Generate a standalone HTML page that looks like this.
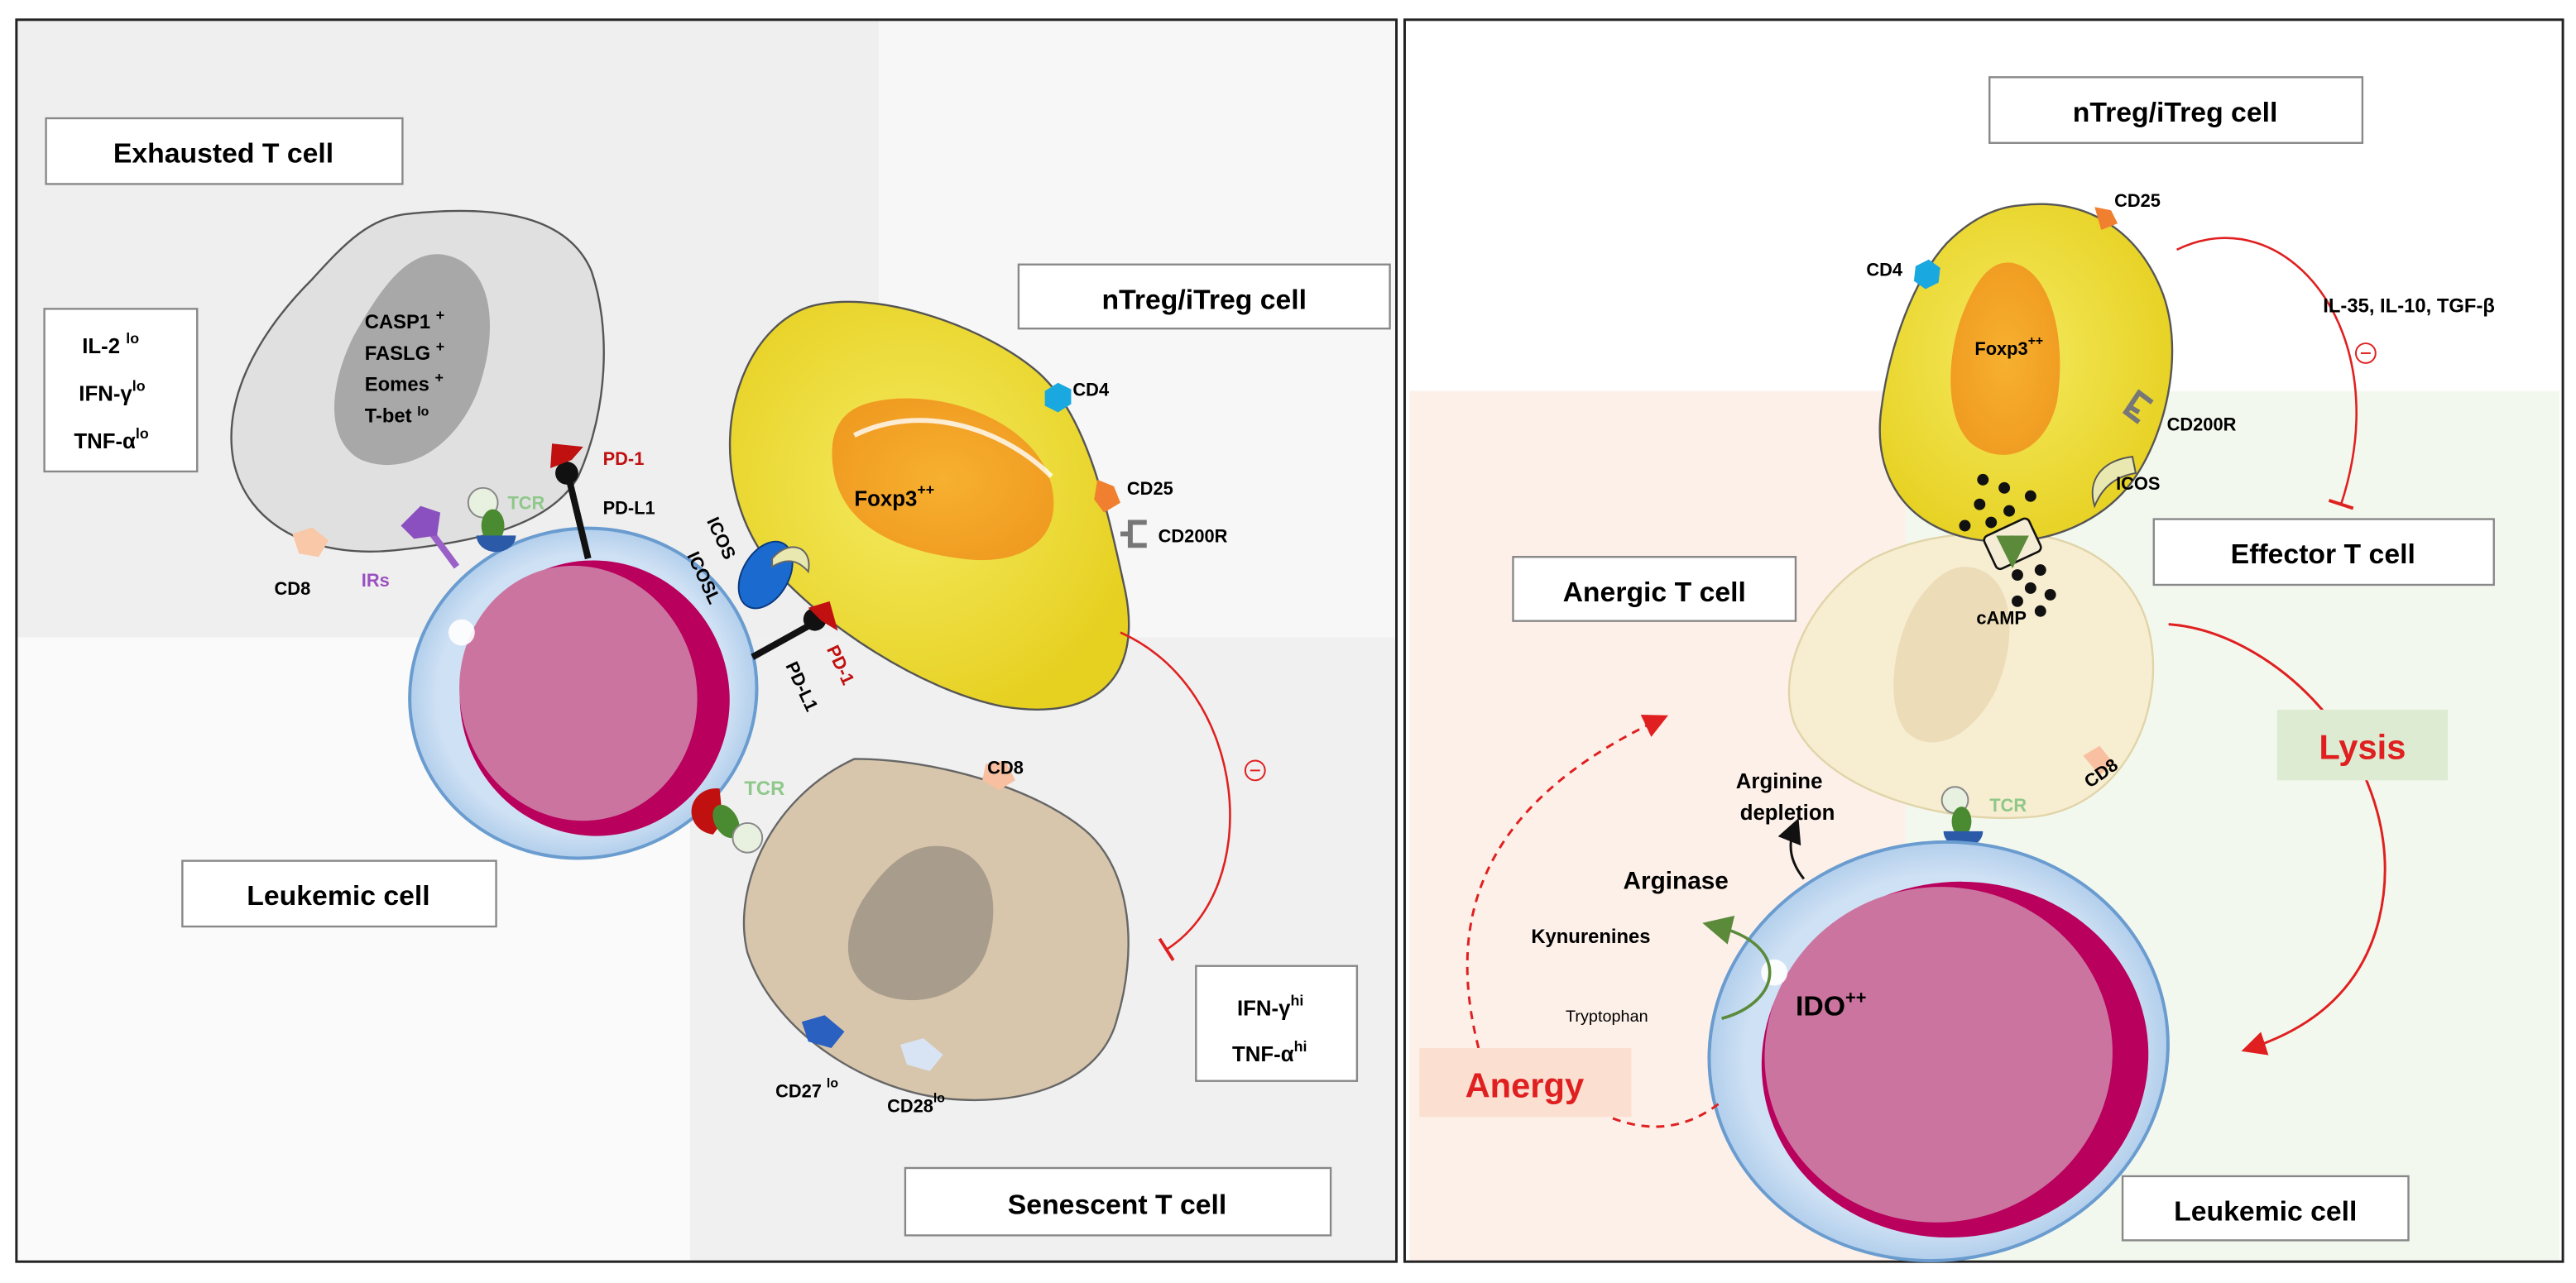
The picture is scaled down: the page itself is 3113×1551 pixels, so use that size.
<!DOCTYPE html>
<html><head><meta charset="utf-8"><style>
html,body{margin:0;padding:0;background:#fff}
svg{display:block}
text{font-family:"Liberation Sans",sans-serif}
.b{font-weight:bold}
</style></head><body>
<svg width="3113" height="1551" viewBox="0 0 1568 781" preserveAspectRatio="none" xmlns="http://www.w3.org/2000/svg">
<defs>
<marker id="ar" markerWidth="10" markerHeight="10" refX="6" refY="5" orient="auto"><path d="M0,0 L10,5 L0,10 z" fill="#e02020"/></marker>
<marker id="tb" markerWidth="4" markerHeight="12" refX="2" refY="6" orient="auto"><path d="M2,0 L2,12" stroke="#e02020" stroke-width="1.5"/></marker>
<marker id="ag" markerWidth="10" markerHeight="10" refX="5" refY="5" orient="auto"><path d="M0,0 L10,5 L0,10 z" fill="#5a8a3a"/></marker>
<marker id="ak" markerWidth="10" markerHeight="10" refX="5" refY="5" orient="auto"><path d="M0,0 L10,5 L0,10 z" fill="#111"/></marker>
<radialGradient id="yel" cx="0.45" cy="0.45" r="0.6"><stop offset="0" stop-color="#f5ea60"/><stop offset="1" stop-color="#e6d020"/></radialGradient>
<radialGradient id="org" cx="0.5" cy="0.5" r="0.6"><stop offset="0" stop-color="#f7b030"/><stop offset="1" stop-color="#ef9a20"/></radialGradient>
<radialGradient id="blu" cx="0.5" cy="0.5" r="0.6"><stop offset="0.7" stop-color="#cfe1f4"/><stop offset="1" stop-color="#8fb8e2"/></radialGradient>
</defs>
<!-- left panel backgrounds -->
<rect x="10" y="12" width="525" height="376" fill="#efefef"/>
<rect x="535" y="12" width="315" height="376" fill="#f7f7f7"/>
<rect x="10" y="388" width="410" height="380" fill="#fafafa"/>
<rect x="420" y="388" width="430" height="380" fill="#f0f0f0"/>
<rect x="10" y="12" width="840" height="756" fill="none" stroke="#222" stroke-width="1.5"/>
<!-- right panel -->
<rect x="858" y="238" width="302" height="530" fill="#fdf0e9"/>
<rect x="1160" y="238" width="398" height="530" fill="#f3f8ef"/>
<rect x="855" y="12" width="705" height="756" fill="none" stroke="#222" stroke-width="1.5"/>

<!-- exhausted gray cell -->
<path d="M250,130 C300,125 345,130 360,165 C372,200 370,250 352,290 C335,320 290,330 240,335 C190,340 150,320 142,280 C135,240 160,200 190,170 C210,148 225,132 250,130 Z" fill="#e0e0e0" stroke="#555" stroke-width="1.2"/>
<path d="M270,155 C300,160 305,200 290,240 C275,275 245,290 220,280 C200,270 198,240 215,205 C232,175 248,152 270,155 Z" fill="#a8a8a8"/>
<text class="b" x="222" y="200" font-size="12">CASP1 <tspan dy="-5" font-size="9">+</tspan></text>
<text class="b" x="222" y="219" font-size="12">FASLG <tspan dy="-5" font-size="9">+</tspan></text>
<text class="b" x="222" y="238" font-size="12">Eomes <tspan dy="-5" font-size="9">+</tspan></text>
<text class="b" x="222" y="257" font-size="12">T-bet <tspan dy="-4" font-size="8">lo</tspan></text>
<path d="M178,325 l12,-4 l10,8 l-6,10 l-12,-2 z" fill="#f8c8a8"/>
<text class="b" x="167" y="362" font-size="11">CD8</text>

<!-- left leukemic cell -->
<ellipse cx="355" cy="422" rx="106" ry="100" transform="rotate(-15 355 422)" fill="url(#blu)" stroke="#6a9ccf" stroke-width="2"/>
<ellipse cx="362" cy="425" rx="82" ry="84" transform="rotate(-15 362 425)" fill="#b8005c"/>
<ellipse cx="352" cy="422" rx="72" ry="78" transform="rotate(-15 352 422)" fill="#cc74a0"/>
<circle cx="281" cy="385" r="8" fill="#fff" opacity="0.9"/>

<!-- IRs purple -->
<path d="M278,345 L258,318" stroke="#9a60c8" stroke-width="4"/>
<path d="M244,320 l12,-12 l12,4 l-2,14 l-14,2 z" fill="#8a50c0"/>
<text class="b" x="220" y="357" font-size="11" fill="#9a50c0">IRs</text>
<!-- TCR exhausted -->
<circle cx="294" cy="306" r="9" fill="#e8f0e0" stroke="#888"/>
<ellipse cx="300" cy="320" rx="7" ry="10" fill="#4a8a30"/>
<path d="M290,326 a12,10 0 0 0 24,0 z" fill="#2a5aa8"/>
<text class="b" x="309" y="310" font-size="11" fill="#8fc88a">TCR</text>
<!-- PD-1 / PD-L1 top -->
<path d="M358,340 L346,290" stroke="#111" stroke-width="4"/>
<circle cx="345" cy="288" r="7" fill="#111"/>
<path d="M335,285 L336,270 L355,272 L348,280 z" fill="#c01010"/>
<text class="b" x="367" y="283" font-size="11" fill="#c01010">PD-1</text>
<text class="b" x="367" y="313" font-size="11">PD-L1</text>

<!-- yellow treg left -->
<path d="M500,185 C540,178 600,200 630,225 C660,250 672,300 685,360 C695,410 670,440 610,430 C560,420 500,380 470,345 C445,315 438,270 450,235 C460,205 480,188 500,185 Z" fill="url(#yel)" stroke="#555" stroke-width="1.2"/>
<path d="M530,245 C570,235 630,255 640,295 C648,330 620,345 585,340 C545,335 515,320 508,290 C503,265 510,250 530,245 Z" fill="url(#org)"/>
<path d="M520,265 C560,245 610,260 640,290" stroke="#fff" stroke-width="3" fill="none" opacity="0.8"/>
<text class="b" x="520" y="308" font-size="13">Foxp3<tspan dy="-7" font-size="9">++</tspan></text>
<path d="M636,238 l8,-5 l8,4 l0,9 l-8,5 l-8,-4 z" fill="#1aa8e0"/>
<text class="b" x="653" y="241" font-size="11">CD4</text>
<path d="M668,292 l10,4 l4,10 l-10,6 l-6,-8 z" fill="#f08030"/>
<text class="b" x="686" y="301" font-size="11">CD25</text>
<path d="M698,318 l-10,0 l0,14 l10,0 M688,325 l-6,0" stroke="#777" stroke-width="3" fill="none"/>
<text class="b" x="705" y="330" font-size="11">CD200R</text>
<!-- ICOS / ICOSL -->
<ellipse cx="466" cy="350" rx="14" ry="22" transform="rotate(30 466 350)" fill="#1a6ad0" stroke="#0a3a80"/>
<path d="M470,340 C480,328 495,332 492,348 C485,340 478,340 470,345 z" fill="#e8e8b0" stroke="#666"/>
<text class="b" font-size="11" transform="translate(430,317) rotate(65)">ICOS</text>
<text class="b" font-size="11" transform="translate(418,338) rotate(65)">ICOSL</text>
<!-- PD-1 lower -->
<path d="M458,400 L494,380" stroke="#111" stroke-width="4"/>
<circle cx="496" cy="377" r="7" fill="#111"/>
<path d="M492,370 L505,366 L510,384 L500,378 z" fill="#c01010"/>
<text class="b" font-size="11" fill="#c01010" transform="translate(503,395) rotate(65)">PD-1</text>
<text class="b" font-size="11" transform="translate(478,405) rotate(65)">PD-L1</text>

<!-- senescent beige -->
<path d="M520,462 C570,462 630,480 660,505 C690,530 692,580 680,620 C670,660 620,675 570,668 C520,660 470,625 455,580 C445,540 470,485 520,462 Z" fill="#d7c6ac" stroke="#666" stroke-width="1.2"/>
<path d="M570,515 C600,515 612,545 600,580 C590,605 560,615 535,605 C512,595 512,570 525,548 C538,528 552,515 570,515 Z" fill="#a89c8c"/>
<path d="M600,465 l12,-2 l6,12 l-10,6 l-10,-6 z" fill="#f8c0a0"/>
<text class="b" x="601" y="471" font-size="11">CD8</text>
<path d="M488,622 l14,-4 l12,10 l-8,10 l-14,-4 z" fill="#2a60c0"/>
<text class="b" x="472" y="668" font-size="11">CD27 <tspan dy="-6" font-size="8">lo</tspan></text>
<path d="M548,636 l14,-4 l12,10 l-8,10 l-14,-4 z" fill="#d8e4f4"/>
<text class="b" x="540" y="677" font-size="11">CD28<tspan dy="-6" font-size="8">lo</tspan></text>
<!-- TCR senescent -->
<path d="M438,480 a15,14 0 0 0 -4,28 l6,-8 z" fill="#c01010"/>
<ellipse cx="442" cy="500" rx="7" ry="11" transform="rotate(-30 442 500)" fill="#4a8a30"/>
<circle cx="455" cy="510" r="9" fill="#e8f0e0" stroke="#888"/>
<text class="b" x="453" y="484" font-size="12" fill="#8fc88a">TCR</text>

<!-- red inhibition arrow left -->
<path d="M682,385 C760,420 770,540 710,578" fill="none" stroke="#e02020" stroke-width="1.3" marker-end="url(#tb)"/>
<circle cx="764" cy="469" r="6" fill="none" stroke="#e02020"/><path d="M761,469 h6" stroke="#e02020"/>

<!-- left label boxes -->
<g fill="#fff" stroke="#888" stroke-width="1.2">
<rect x="28" y="72" width="217" height="40"/>
<rect x="27" y="188" width="93" height="99"/>
<rect x="620" y="161" width="226" height="39"/>
<rect x="111" y="524" width="191" height="40"/>
<rect x="728" y="588" width="98" height="70"/>
<rect x="551" y="711" width="259" height="41"/>
</g>
<text class="b" x="136" y="99" font-size="17" text-anchor="middle">Exhausted T cell</text>
<text class="b" x="50" y="215" font-size="13">IL-2 <tspan dy="-6" font-size="9">lo</tspan></text>
<text class="b" x="48" y="244" font-size="13">IFN-γ<tspan dy="-6" font-size="9">lo</tspan></text>
<text class="b" x="45" y="273" font-size="13">TNF-α<tspan dy="-6" font-size="9">lo</tspan></text>
<text class="b" x="733" y="188" font-size="17" text-anchor="middle">nTreg/iTreg cell</text>
<text class="b" x="206" y="551" font-size="17" text-anchor="middle">Leukemic cell</text>
<text class="b" x="753" y="618" font-size="13">IFN-γ<tspan dy="-6" font-size="9">hi</tspan></text>
<text class="b" x="750" y="646" font-size="13">TNF-α<tspan dy="-6" font-size="9">hi</tspan></text>
<text class="b" x="680" y="739" font-size="17" text-anchor="middle">Senescent T cell</text>

<!-- RIGHT PANEL -->
<!-- anergic pale cell -->
<path d="M1200,325 C1260,318 1305,345 1310,395 C1315,440 1290,490 1240,497 C1180,503 1110,480 1092,440 C1080,405 1105,360 1140,340 C1160,330 1180,326 1200,325 Z" fill="#f7edd0" stroke="#e0d4a8" stroke-width="1.2"/>
<path d="M1195,345 C1225,345 1230,385 1215,420 C1200,450 1175,460 1160,445 C1145,425 1155,380 1170,362 C1178,352 1185,346 1195,345 Z" fill="#ecdcb8"/>
<text class="b" x="1203" y="380" font-size="11">cAMP</text>
<path d="M1268,460 l10,-6 l8,10 l-8,8 z" fill="#f8c0a0"/>
<text class="b" font-size="11" transform="translate(1272,480) rotate(-35)">CD8</text>
<!-- yellow treg right -->
<path d="M1230,125 C1270,120 1300,140 1315,175 C1330,210 1320,260 1300,290 C1280,320 1240,335 1200,328 C1160,320 1140,290 1145,250 C1150,210 1165,170 1185,148 C1200,133 1215,126 1230,125 Z" fill="url(#yel)" stroke="#555" stroke-width="1.2"/>
<path d="M1225,160 C1250,165 1258,210 1252,245 C1245,275 1220,285 1200,270 C1183,255 1185,215 1195,190 C1203,170 1212,158 1225,160 Z" fill="url(#org)"/>
<text class="b" x="1202" y="216" font-size="11">Foxp3<tspan dy="-6" font-size="8">++</tspan></text>
<path d="M1166,162 l8,-4 l7,5 l-1,9 l-8,4 l-7,-5 z" fill="#1aa8e0"/>
<text class="b" x="1136" y="168" font-size="11">CD4</text>
<path d="M1275,126 l10,2 l4,8 l-10,4 z" fill="#f08030"/>
<text class="b" x="1287" y="126" font-size="11">CD25</text>
<path d="M1310,245 l-8,-6 l-8,12 l8,6 M1302,251 l-5,-3" stroke="#777" stroke-width="3" fill="none"/>
<text class="b" x="1319" y="262" font-size="11">CD200R</text>
<path d="M1298,278 C1280,280 1270,292 1275,308 C1280,296 1288,290 1300,288 z" fill="#e8e8b0" stroke="#555"/>
<text class="b" x="1288" y="298" font-size="11">ICOS</text>
<!-- dots -->
<g fill="#111">
<circle cx="1207" cy="292" r="3.5"/><circle cx="1220" cy="297" r="3.5"/><circle cx="1236" cy="302" r="3.5"/><circle cx="1205" cy="307" r="3.5"/><circle cx="1223" cy="311" r="3.5"/><circle cx="1212" cy="318" r="3.5"/><circle cx="1196" cy="320" r="3.5"/><circle cx="1230" cy="323" r="3.5"/>
<circle cx="1228" cy="350" r="3.5"/><circle cx="1242" cy="347" r="3.5"/><circle cx="1236" cy="358" r="3.5"/><circle cx="1248" cy="362" r="3.5"/><circle cx="1228" cy="366" r="3.5"/><circle cx="1242" cy="372" r="3.5"/>
</g>
<rect x="1210" y="320" width="30" height="22" rx="3" transform="rotate(-25 1225 331)" fill="#f4ecd4" stroke="#111" stroke-width="1.3"/>
<path d="M1225,326 l0,10" stroke="#4a8a30" stroke-width="2" marker-end="url(#ag)"/>
<!-- TCR right -->
<circle cx="1190" cy="487" r="8" fill="#e8f0e0" stroke="#888"/>
<ellipse cx="1194" cy="500" rx="6" ry="9" fill="#4a8a30"/>
<path d="M1183,506 a12,10 0 0 0 24,0 z" fill="#2a5aa8"/>
<text class="b" x="1211" y="494" font-size="11" fill="#8fc88a">TCR</text>
<!-- leukemic right -->
<ellipse cx="1180" cy="640" rx="140" ry="127" transform="rotate(-10 1180 640)" fill="url(#blu)" stroke="#6a9ccf" stroke-width="2"/>
<ellipse cx="1190" cy="645" rx="118" ry="108" transform="rotate(-10 1190 645)" fill="#b8005c"/>
<ellipse cx="1180" cy="642" rx="106" ry="102" transform="rotate(-10 1180 642)" fill="#cc74a0"/>
<circle cx="1080" cy="592" r="8" fill="#fff" opacity="0.9"/>
<text class="b" x="1093" y="618" font-size="17">IDO<tspan dy="-7" font-size="11">++</tspan></text>
<!-- green arrow & black arrow -->
<path d="M1048,620 C1085,610 1090,575 1045,564" fill="none" stroke="#5a8a3a" stroke-width="1.8" marker-end="url(#ag)"/>
<path d="M1098,535 C1090,525 1088,515 1092,505" fill="none" stroke="#111" stroke-width="1.5" marker-end="url(#ak)"/>
<text class="b" x="1083" y="480" font-size="13" text-anchor="middle">Arginine</text>
<text class="b" x="1088" y="499" font-size="13" text-anchor="middle">depletion</text>
<text class="b" x="988" y="541" font-size="15">Arginase</text>
<text class="b" x="932" y="574" font-size="12">Kynurenines</text>
<text x="953" y="622" font-size="10">Tryptophan</text>
<!-- red dashed anergy arrows -->
<path d="M900,638 C880,560 900,490 1010,438" fill="none" stroke="#e02020" stroke-width="1.5" stroke-dasharray="5,4" marker-end="url(#ar)"/>
<path d="M958,668 C990,690 1020,692 1046,672" fill="none" stroke="#e02020" stroke-width="1.5" stroke-dasharray="5,4"/>
<!-- red lysis arrow -->
<path d="M1320,380 C1390,385 1470,470 1448,560 C1438,600 1410,625 1370,638" fill="none" stroke="#e02020" stroke-width="1.5" marker-end="url(#ar)"/>
<!-- red inhibition right -->
<path d="M1325,152 C1390,120 1460,200 1425,307" fill="none" stroke="#e02020" stroke-width="1.3" marker-end="url(#tb)"/>
<circle cx="1440" cy="215" r="6" fill="none" stroke="#e02020"/><path d="M1437,215 h6" stroke="#e02020"/>
<text class="b" x="1414" y="190" font-size="12">IL-35, IL-10, TGF-β</text>
<!-- right label boxes -->
<g fill="#fff" stroke="#888" stroke-width="1.2">
<rect x="1211" y="47" width="227" height="40"/>
<rect x="1311" y="316" width="207" height="40"/>
<rect x="921" y="339" width="172" height="39"/>
<rect x="1292" y="716" width="174" height="39"/>
</g>
<rect x="1386" y="432" width="104" height="43" fill="#dcebd2"/>
<rect x="864" y="638" width="129" height="42" fill="#fbe0d2"/>
<text class="b" x="1324" y="74" font-size="17" text-anchor="middle">nTreg/iTreg cell</text>
<text class="b" x="1414" y="343" font-size="17" text-anchor="middle">Effector T cell</text>
<text class="b" x="1007" y="366" font-size="17" text-anchor="middle">Anergic T cell</text>
<text class="b" x="1379" y="743" font-size="17" text-anchor="middle">Leukemic cell</text>
<text class="b" x="1438" y="462" font-size="21" fill="#e02020" text-anchor="middle">Lysis</text>
<text class="b" x="928" y="668" font-size="21" fill="#e02020" text-anchor="middle">Anergy</text>
</svg>
</body></html>
